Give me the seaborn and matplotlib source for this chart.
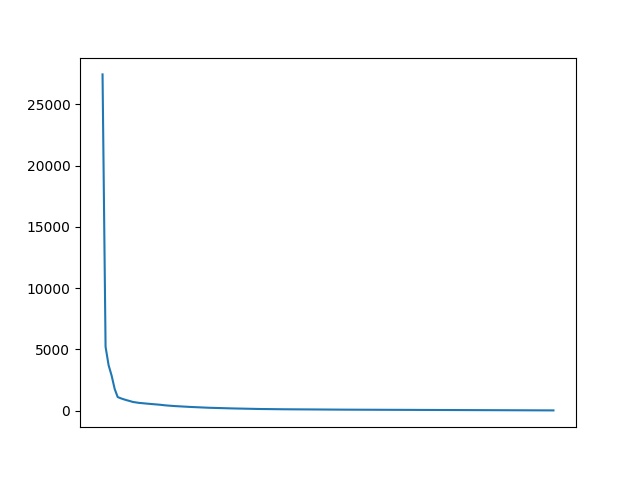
import matplotlib
matplotlib.use("Agg")
import matplotlib.pyplot as plt
import seaborn as sns

# Frequencies, sorted from most to least common
counts = [
    27450, 5200, 3700, 2850, 1770, 1100, 1000, 915, 840, 775,
    700, 660, 625, 600, 575, 555, 535, 515, 495, 470,
    440, 415, 395, 375, 360, 345, 330, 318, 305, 292,
    280, 268, 255, 245, 235, 226, 218, 210, 203, 196,
    189, 182, 176, 170, 164, 158, 153, 148, 143, 138,
    133, 128, 124, 120, 117, 114, 111, 108, 105, 103,
    101, 99, 97, 95, 93, 91, 89, 88, 86, 85,
    83, 82, 80, 79, 78, 76, 75, 74, 73, 72,
    70, 69, 68, 67, 66, 65, 64, 63, 62, 61,
    60, 59, 58, 57, 56, 55, 54, 53, 52, 51,
    50, 49, 48, 47, 46, 45, 44, 43, 42, 41,
    40, 39, 38, 37, 36, 35, 35, 34, 33, 32,
    31, 30, 30, 29, 28, 27, 26, 26, 25, 24,
    23, 22, 22, 21, 20, 19, 19, 18, 17, 16,
    16, 15, 14, 14, 13, 12, 12, 11, 10, 9,
]
ranks = list(range(len(counts)))

fig, ax = plt.subplots(figsize=(6.4, 4.8), dpi=100)
sns.lineplot(x=ranks, y=counts, ax=ax)

# no x ticks, like the original
ax.set_xticks([])
ax.set_xlabel("")
ax.set_ylabel("")

fig.savefig("out.png")
